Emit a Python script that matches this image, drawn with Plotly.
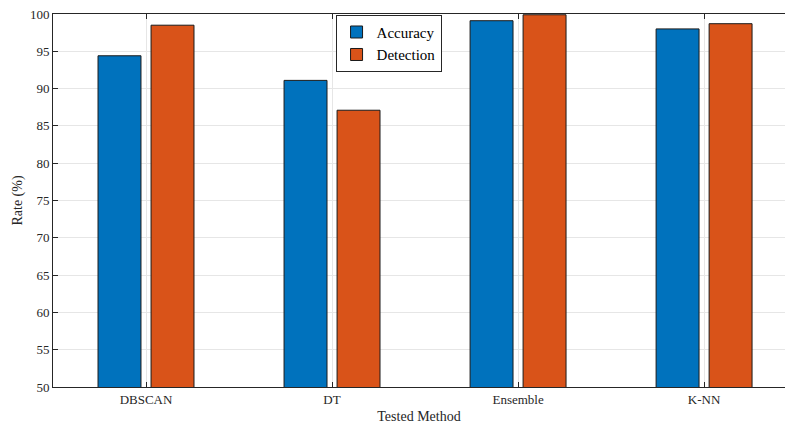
import plotly.graph_objects as go

methods = ["DBSCAN", "DT", "Ensemble", "K-NN"]
accuracy = [94.4, 91.1, 99.1, 98.0]
detection = [98.5, 87.1, 99.9, 98.7]
series_names = ["Accuracy", "Detection"]
y_ticks = list(range(50, 101, 5))

fig = go.Figure()
fig.add_trace(go.Bar(x=methods, y=accuracy, name=series_names[0],
                     marker=dict(color="#0072BD", line=dict(color="#1a1a1a", width=1))))
fig.add_trace(go.Bar(x=methods, y=detection, name=series_names[1],
                     marker=dict(color="#D95319", line=dict(color="#1a1a1a", width=1))))

font_family = "Liberation Serif"
fig.update_layout(
    width=785, height=424,
    margin=dict(l=53, r=0, t=14, b=37, autoexpand=False),
    paper_bgcolor="white", plot_bgcolor="white",
    barmode="group", bargap=0.43, bargroupgap=0.19,
    font=dict(family=font_family, size=13, color="#262626"),
    legend=dict(x=0.386, y=0.998, xanchor="left", yanchor="top",
                bgcolor="white", bordercolor="#262626", borderwidth=1,
                font=dict(family=font_family, size=15, color="#000000"),
                tracegroupgap=0, itemwidth=30),
    showlegend=True,
)
fig.update_xaxes(
    range=[-0.5, 3.435], automargin=False,
    showline=True, linecolor="#262626", linewidth=1, mirror="ticks",
    ticks="inside", ticklen=5, tickcolor="#262626",
    showgrid=True, gridcolor="#e6e6e6", gridwidth=1,
    title=dict(text="Tested Method", font=dict(family=font_family, size=14, color="#262626")),
    tickfont=dict(family=font_family, size=13, color="#262626"),
)
fig.update_yaxes(
    range=[50, 100], tickvals=y_ticks, automargin=False,
    showline=True, linecolor="#262626", linewidth=1, mirror=False,
    ticks="inside", ticklen=5, tickcolor="#262626",
    showgrid=True, gridcolor="#e6e6e6", gridwidth=1, zeroline=False,
    title=dict(text="Rate (%)", font=dict(family=font_family, size=14, color="#262626"), standoff=4),
    tickfont=dict(family=font_family, size=13, color="#262626"),
)

fig.write_html("out.html", config={"displayModeBar": False},
               post_script="document.body.style.margin='0';")
